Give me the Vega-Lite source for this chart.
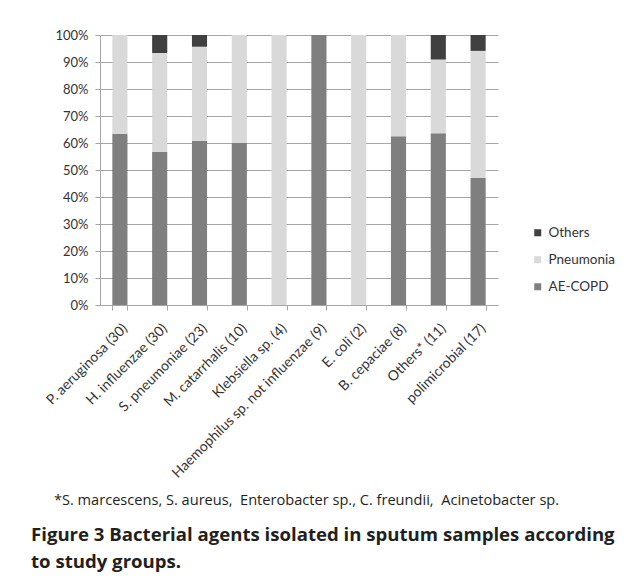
{
  "$schema": "https://vega.github.io/schema/vega-lite/v6.json",
  "width": 398,
  "height": 270,
  "autosize": {"type": "none"},
  "padding": {"left": 100, "top": 35, "right": 135, "bottom": 272},
  "background": "white",
  "title": {
    "text": ["Figure 3 Bacterial agents isolated in sputum samples according", "to study groups."],
    "orient": "bottom",
    "anchor": "start",
    "frame": "group",
    "dx": -69,
    "offset": 19,
    "font": "Open Sans",
    "fontSize": 18.6,
    "fontWeight": "bold",
    "lineHeight": 27,
    "color": "#231f20"
  },
  "data": {
    "values": [
      {"organism": "P. aeruginosa (30)", "group": "AE-COPD", "rank": 1, "count": 19},
      {"organism": "P. aeruginosa (30)", "group": "Pneumonia", "rank": 2, "count": 11},
      {"organism": "P. aeruginosa (30)", "group": "Others", "rank": 3, "count": 0},
      {"organism": "H. influenzae (30)", "group": "AE-COPD", "rank": 1, "count": 17},
      {"organism": "H. influenzae (30)", "group": "Pneumonia", "rank": 2, "count": 11},
      {"organism": "H. influenzae (30)", "group": "Others", "rank": 3, "count": 2},
      {"organism": "S. pneumoniae (23)", "group": "AE-COPD", "rank": 1, "count": 14},
      {"organism": "S. pneumoniae (23)", "group": "Pneumonia", "rank": 2, "count": 8},
      {"organism": "S. pneumoniae (23)", "group": "Others", "rank": 3, "count": 1},
      {"organism": "M. catarrhalis (10)", "group": "AE-COPD", "rank": 1, "count": 6},
      {"organism": "M. catarrhalis (10)", "group": "Pneumonia", "rank": 2, "count": 4},
      {"organism": "M. catarrhalis (10)", "group": "Others", "rank": 3, "count": 0},
      {"organism": "Klebsiella sp. (4)", "group": "AE-COPD", "rank": 1, "count": 0},
      {"organism": "Klebsiella sp. (4)", "group": "Pneumonia", "rank": 2, "count": 4},
      {"organism": "Klebsiella sp. (4)", "group": "Others", "rank": 3, "count": 0},
      {"organism": "Haemophilus sp. not influenzae (9)", "group": "AE-COPD", "rank": 1, "count": 9},
      {"organism": "Haemophilus sp. not influenzae (9)", "group": "Pneumonia", "rank": 2, "count": 0},
      {"organism": "Haemophilus sp. not influenzae (9)", "group": "Others", "rank": 3, "count": 0},
      {"organism": "E. coli (2)", "group": "AE-COPD", "rank": 1, "count": 0},
      {"organism": "E. coli (2)", "group": "Pneumonia", "rank": 2, "count": 2},
      {"organism": "E. coli (2)", "group": "Others", "rank": 3, "count": 0},
      {"organism": "B. cepaciae (8)", "group": "AE-COPD", "rank": 1, "count": 5},
      {"organism": "B. cepaciae (8)", "group": "Pneumonia", "rank": 2, "count": 3},
      {"organism": "B. cepaciae (8)", "group": "Others", "rank": 3, "count": 0},
      {"organism": "Others* (11)", "group": "AE-COPD", "rank": 1, "count": 7},
      {"organism": "Others* (11)", "group": "Pneumonia", "rank": 2, "count": 3},
      {"organism": "Others* (11)", "group": "Others", "rank": 3, "count": 1},
      {"organism": "polimicrobial (17)", "group": "AE-COPD", "rank": 1, "count": 8},
      {"organism": "polimicrobial (17)", "group": "Pneumonia", "rank": 2, "count": 8},
      {"organism": "polimicrobial (17)", "group": "Others", "rank": 3, "count": 1}
    ]
  },
  "mark": {"type": "bar"},
  "encoding": {
    "x": {
      "field": "organism",
      "type": "nominal",
      "sort": null,
      "scale": {"paddingInner": 0.62, "paddingOuter": 0.31},
      "axis": {
        "title": "*S. marcescens, S. aureus,\u00a0 Enterobacter sp., C. freundii,\u00a0 Acinetobacter sp.",
        "titleFont": "Open Sans",
        "titleFontSize": 14.6,
        "titleFontWeight": "normal",
        "titleColor": "#231f20",
        "titleX": 206,
        "titleY": 199,
        "titleBaseline": "alphabetic",
        "labelAngle": -45,
        "labelFont": "Lato",
        "labelFontSize": 14,
        "labelColor": "#333333",
        "labelPadding": 11,
        "labelLimit": 0,
        "tickBand": "extent",
        "tickSize": 5,
        "tickColor": "#a6a6a6",
        "domainColor": "#a6a6a6",
        "grid": false
      }
    },
    "y": {
      "field": "count",
      "type": "quantitative",
      "stack": "normalize",
      "scale": {"domain": [0, 1]},
      "axis": {
        "title": null,
        "format": ".0%",
        "values": [0, 0.1, 0.2, 0.3, 0.4, 0.5, 0.6, 0.7, 0.8, 0.9, 1],
        "labelFont": "Lato",
        "labelFontSize": 13,
        "labelColor": "#333333",
        "labelPadding": 7,
        "tickSize": 5,
        "tickColor": "#a6a6a6",
        "domainColor": "#a6a6a6",
        "gridColor": "#a6a6a6",
        "gridWidth": 1
      }
    },
    "color": {
      "field": "group",
      "type": "nominal",
      "scale": {"domain": ["Others", "Pneumonia", "AE-COPD"], "range": ["#404040", "#d9d9d9", "#7f7f7f"]},
      "legend": {
        "title": null,
        "orient": "none",
        "legendX": 431,
        "legendY": 191,
        "symbolType": "square",
        "symbolSize": 49,
        "symbolStrokeWidth": 0,
        "labelFont": "Lato",
        "labelFontSize": 13.5,
        "labelColor": "#333333",
        "labelOffset": 4,
        "rowPadding": 12
      }
    },
    "order": {"field": "rank", "type": "quantitative"}
  },
  "config": {
    "view": {"stroke": null}
  }
}
